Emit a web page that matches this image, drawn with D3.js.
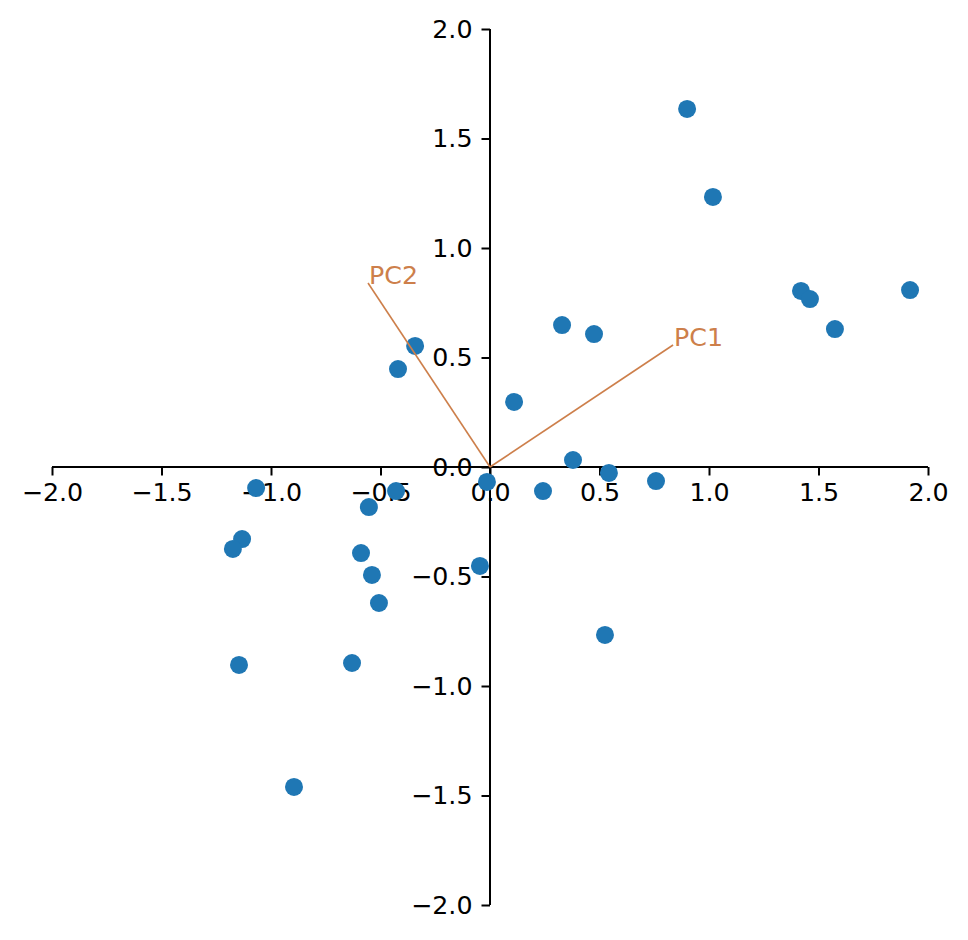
<!DOCTYPE html>
<html><head><meta charset="utf-8">
<script src="https://cdn.jsdelivr.net/npm/d3@7"></script>
<style>body{margin:0;background:#fff}svg{display:block}</style>
</head><body>
<script>
const xs = [0.90,1.018,1.42,1.461,1.918,1.575,0.329,0.475,-0.342,-0.420,0.110,0.379,0.543,0.758,-0.014,0.242,-1.068,-0.429,-0.553,-1.132,-1.174,-0.589,-0.539,-0.046,-0.507,0.525,-1.146,-0.630,-0.895];
const ys = [1.635,1.233,0.804,0.767,0.808,0.630,0.648,0.607,0.553,0.447,0.297,0.032,-0.027,-0.064,-0.068,-0.110,-0.096,-0.110,-0.183,-0.329,-0.374,-0.393,-0.493,-0.452,-0.621,-0.767,-0.904,-0.895,-1.461];
const loadingNames = ["PC1","PC2"];
const loadingX = [0.836,-0.557];
const loadingY = [0.557,0.840];
const ticks = [-2.0,-1.5,-1.0,-0.5,0.0,0.5,1.0,1.5,2.0];

const W=968,H=940;
const svg=d3.select("body").append("svg").attr("width",W).attr("height",H);
const x=d3.scaleLinear().domain([-2,2]).range([52,928]);
const y=d3.scaleLinear().domain([-2,2]).range([905,29]);
const fmt=v=>(v<0?"\u2212":"")+Math.abs(v).toFixed(1);
const font="'DejaVu Sans', sans-serif", fs=25.3;

const gx=svg.append("g").attr("transform",`translate(0,${y(0)})`)
  .call(d3.axisBottom(x).tickValues(ticks).tickFormat(fmt).tickSize(8.5).tickPadding(8));
const gy=svg.append("g").attr("transform",`translate(${x(0)},0)`)
  .call(d3.axisLeft(y).tickValues(ticks).tickFormat(fmt).tickSize(8.5).tickPadding(9));
[gx,gy].forEach(g=>{
  g.attr("font-family",font).attr("font-size",fs);
  g.selectAll("path").attr("stroke","#000").attr("stroke-width",2);
  g.selectAll("line").attr("stroke","#000").attr("stroke-width",2);
  g.selectAll("text").attr("font-family",font).attr("font-size",fs).attr("fill","#000");
});
gx.select(".domain").attr("d",`M${x(-2)},0H${x(2)}`);
gy.select(".domain").attr("d",`M0,${y(2)}V${y(-2)}`);

const pts=xs.map((v,i)=>[v,ys[i]]);
svg.append("g").selectAll("circle").data(pts).join("circle")
  .attr("cx",d=>x(d[0])).attr("cy",d=>y(d[1])).attr("r",9).attr("fill","#1f77b4");

const ld=loadingNames.map((n,i)=>({n,x:loadingX[i],y:loadingY[i]}));
const lg=svg.append("g");
lg.selectAll("line").data(ld).join("line")
  .attr("x1",x(0)).attr("y1",y(0)).attr("x2",d=>x(d.x)).attr("y2",d=>y(d.y))
  .attr("stroke","#cd7f4b").attr("stroke-width",1.6);
lg.selectAll("text").data(ld).join("text")
  .attr("x",d=>x(d.x)+1).attr("y",d=>y(d.y)+1).text(d=>d.n)
  .attr("font-family",font).attr("font-size",fs).attr("fill","#cd7f4b");
</script>
</body></html>
